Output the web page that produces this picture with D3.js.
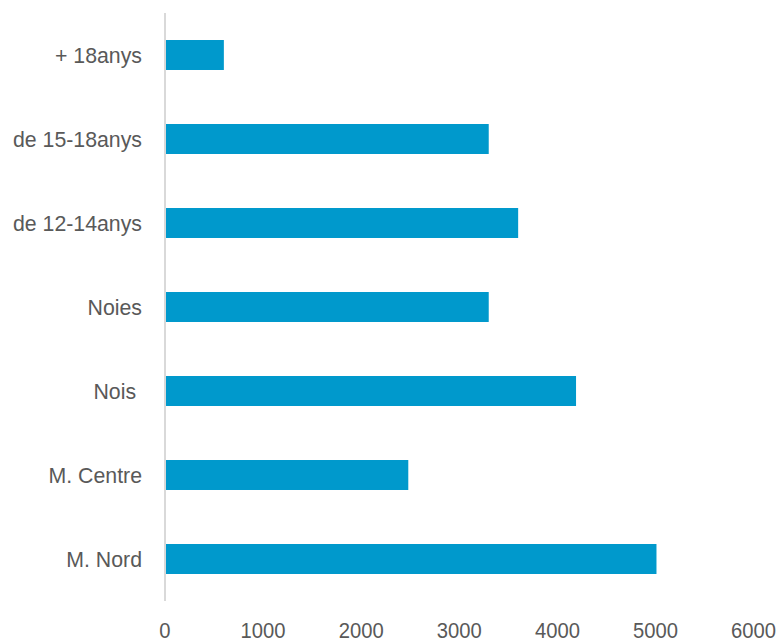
<!DOCTYPE html>
<html>
<head>
<meta charset="utf-8">
<script src="https://cdn.jsdelivr.net/npm/d3@7"></script>
<style>
  html, body { margin: 0; padding: 0; background: #fff; }
  svg text { font-family: "Liberation Sans Narrow", "Arial Narrow", "Liberation Sans", Arial, sans-serif; fill: #595959; white-space: pre; }
</style>
</head>
<body>
<svg id="chart" width="779" height="643"></svg>
<script>
const categories = ["+ 18anys", "de 15-18anys", "de 12-14anys", "Noies", "Nois ", "M. Centre", "M. Nord"];
const values = [600, 3300, 3600, 3300, 4190, 2480, 5010];
const xTicks = [0, 1000, 2000, 3000, 4000, 5000, 6000];

const svg = d3.select("#chart");
const x = d3.scaleLinear().domain([0, 6000]).range([165, 753.6]);
const y = d3.scaleBand().domain(categories).range([13, 601]).paddingInner(0.643).paddingOuter(0.3215);

// bars
svg.selectAll("rect.bar").data(categories).enter().append("rect")
  .attr("class", "bar")
  .attr("x", x(0))
  .attr("y", d => y(d))
  .attr("width", (d, i) => x(values[i]) - x(0))
  .attr("height", y.bandwidth())
  .attr("fill", "#0099cc");

// y axis line
svg.append("line")
  .attr("x1", x(0)).attr("x2", x(0))
  .attr("y1", 13).attr("y2", 601)
  .attr("stroke", "#d9d9d9").attr("stroke-width", 2);

// category labels
const yAxis = d3.axisLeft(y).tickSize(0).tickPadding(23);
const gy = svg.append("g").attr("transform", `translate(${x(0)},0)`).call(yAxis);
gy.select(".domain").remove();
gy.selectAll("text").style("font-size", "21.3px").attr("dy", "0.36em").attr("fill", "#595959");

// x tick labels (condensed)
const fmt = d3.format("d");
const gx = svg.append("g");
gx.selectAll("g.xt").data(xTicks).enter().append("g")
  .attr("class", "xt")
  .attr("transform", d => `translate(${x(d)},638)`)
  .append("text")
  .attr("text-anchor", "middle")
  .attr("transform", "scale(0.92,1)")
  .style("font-size", "22px")
  .attr("fill", "#595959")
  .text(d => fmt(d));
</script>
</body>
</html>
